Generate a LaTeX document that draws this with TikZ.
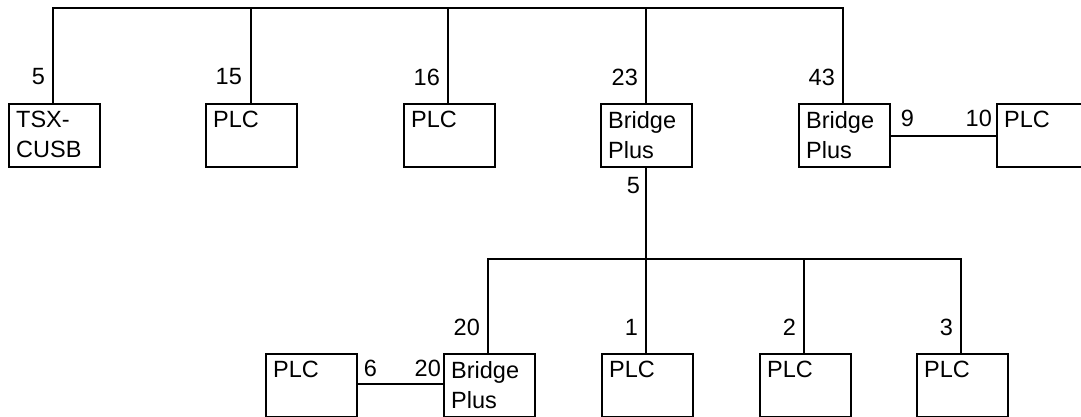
\documentclass[tikz,border=0pt]{standalone}
\usepackage{fontspec}
\setmainfont{Liberation Sans}
\begin{document}
\begin{tikzpicture}[x=1pt,y=-1pt,
  line width=2.3pt,
  box/.style={draw, line width=2.3pt, minimum width=91pt, minimum height=63pt, inner sep=0pt, anchor=north west},
  boxtext/.style={anchor=north west, inner sep=0pt, align=left, font=\fontsize{23.5}{30}\selectfont},
  num/.style={anchor=east, inner sep=0pt, font=\fontsize{23.5}{30}\selectfont}]
\useasboundingbox (0,0) rectangle (1081,417);
\clip (0,0) rectangle (1081,417);
% top row boxes
\node[box] (tsx) at (8,103) {};
\node[box] (p15) at (205,103) {};
\node[box] (p16) at (403,103) {};
\node[box] (b23) at (600,103) {};
\node[box] (b43) at (798,103) {};
\node[box] (p10) at (996,103) {};
% bottom row boxes
\node[box] (p6) at (265,353) {};
\node[box] (b20) at (443,353) {};
\node[box] (p1) at (601,353) {};
\node[box] (p2) at (759,353) {};
\node[box] (p3) at (916,353) {};
% box texts
\node[boxtext] (ttsx) at ([shift={(7,7)}]tsx.north west) {TSX-\\CUSB};
\node[boxtext] (tp15) at ([shift={(7,7)}]p15.north west) {PLC};
\node[boxtext] (tp16) at ([shift={(7,7)}]p16.north west) {PLC};
\node[boxtext] (tb23) at ([shift={(7,7)}]b23.north west) {Bridge\\Plus};
\node[boxtext] (tb43) at ([shift={(7,7)}]b43.north west) {Bridge\\Plus};
\node[boxtext] (tp10) at ([shift={(7,7)}]p10.north west) {PLC};
\node[boxtext] (tp6) at ([shift={(7,7)}]p6.north west) {PLC};
\node[boxtext] (tb20) at ([shift={(7,7)}]b20.north west) {Bridge\\Plus};
\node[boxtext] (tp1) at ([shift={(7,7)}]p1.north west) {PLC};
\node[boxtext] (tp2) at ([shift={(7,7)}]p2.north west) {PLC};
\node[boxtext] (tp3) at ([shift={(7,7)}]p3.north west) {PLC};
% bus coordinates
\coordinate (t1) at (53,8);
\coordinate (t2) at (251,8);
\coordinate (t3) at (448,8);
\coordinate (t4) at (646,8);
\coordinate (t5) at (843,8);
\coordinate (l1) at (488,259);
\coordinate (l2) at (646,259);
\coordinate (l3) at (804,259);
\coordinate (l4) at (961,259);
% top bus
\draw (tsx.north -| t1) -- (t1) -- (t5) -- (b43.north -| t5);
\draw (t2) -- (p15.north -| t2);
\draw (t3) -- (p16.north -| t3);
\draw (t4) -- (b23.north -| t4);
% bridge 23 down to lower bus
\draw (b23.south -| l2) -- (l2);
\draw (b20.north -| l1) -- (l1) -- (l4) -- (p3.north -| l4);
\draw (l2) -- (p1.north -| l2);
\draw (l3) -- (p2.north -| l3);
% side links
\draw (b43.east |- 0,136) -- (p10.west |- 0,136);
\draw (p6.east |- 0,384) -- (b20.west |- 0,384);
% numbers
\node[num] (n5) at (46,77) {5};
\node[num] (n15) at (243,77) {15};
\node[num] (n16) at (441,77) {16};
\node[num] (n23) at (639,77) {23};
\node[num] (n43) at (836,77) {43};
\node[num] (n5b) at (641,186) {5};
\node[num] (n9) at (915,118) {9};
\node[num] (n10) at (993,118) {10};
\node[num] (n20a) at (481,327) {20};
\node[num] (n1) at (639,327) {1};
\node[num] (n2) at (797,327) {2};
\node[num] (n3) at (954,327) {3};
\node[num] (n6) at (378,368) {6};
\node[num] (n20b) at (442,368) {20};
\end{tikzpicture}
\end{document}
